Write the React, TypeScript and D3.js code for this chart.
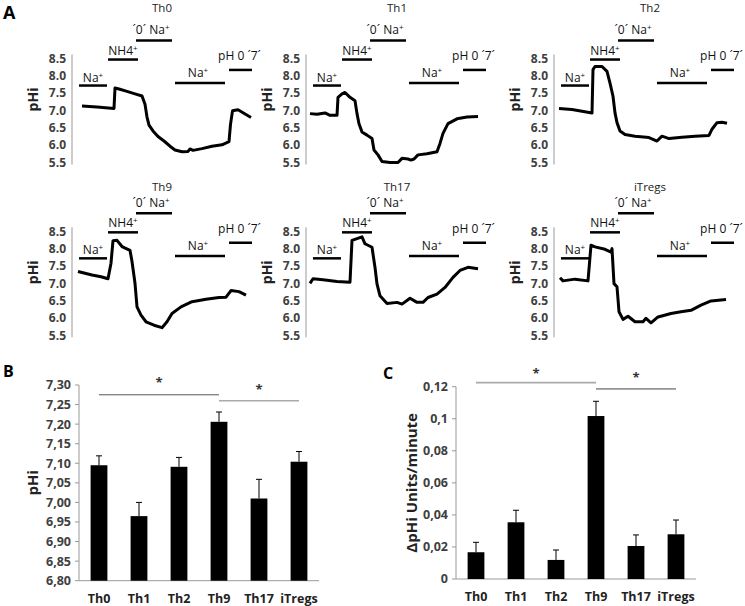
import React from "react";
import * as d3 from "d3";

const FONT = "'Open Sans', 'Liberation Sans', sans-serif";

// ---- Panel A: pHi traces, [time, pHi] ----
const th0: [number, number][] = [
  [10, 7.13], [25, 7.1], [42, 7.06], [43, 7.65], [47, 7.62], [55, 7.55], [63, 7.48],
  [70, 7.42], [73, 7.18], [75, 6.81], [77, 6.58], [81, 6.41], [86, 6.25], [92, 6.12],
  [98, 5.97], [103, 5.86], [110, 5.81], [116, 5.82], [118, 5.89], [121, 5.85],
  [130, 5.9], [140, 5.97], [150, 6.01], [157, 6.1], [158.5, 6.6], [160.5, 6.99],
  [166, 7.02], [179, 6.8],
];
const th1: [number, number][] = [
  [4, 6.91], [11, 6.89], [19, 6.93], [24, 6.86], [31, 6.86], [32, 7.38], [36, 7.48],
  [39, 7.52], [44, 7.38], [49, 7.28], [51, 6.91], [53, 6.62], [56, 6.38], [61, 6.29],
  [66, 6.19], [68, 5.86], [72, 5.72], [76, 5.53], [84, 5.5], [92, 5.5], [96, 5.62],
  [102, 5.6], [105, 5.57], [108, 5.6], [112, 5.72], [121, 5.75], [131, 5.81],
  [134, 6.05], [137, 6.34], [142, 6.62], [151, 6.76], [161, 6.81], [172, 6.83],
];
const th2: [number, number][] = [
  [5, 7.06], [18, 7.03], [28, 6.98], [38, 6.93], [39, 8.18], [41, 8.27], [48, 8.27],
  [53, 8.13], [56, 7.79], [59, 7.41], [61, 6.93], [63, 6.65], [66, 6.41], [71, 6.31],
  [81, 6.26], [95, 6.22], [103, 6.12], [108, 6.26], [115, 6.19], [128, 6.23],
  [141, 6.26], [155, 6.28], [158, 6.46], [163, 6.65], [168, 6.66], [173, 6.63],
];
const th9: [number, number][] = [
  [6, 7.34], [20, 7.24], [29, 7.19], [36, 7.13], [39, 7.58], [41, 8.23], [45, 8.24],
  [50, 8.06], [58, 7.95], [60, 7.63], [63, 7.0], [65, 6.32], [69, 6.08], [74, 5.89],
  [82, 5.79], [90, 5.72], [95, 5.89], [100, 6.13], [109, 6.32], [120, 6.47],
  [134, 6.54], [147, 6.59], [154, 6.6], [159, 6.79], [167, 6.76], [174, 6.66],
];
const th17: [number, number][] = [
  [4, 7.0], [7, 7.13], [17, 7.1], [31, 7.05], [44, 7.03], [46, 8.24], [51, 8.29],
  [56, 8.34], [59, 8.14], [66, 8.04], [69, 7.46], [71, 6.98], [74, 6.64], [81, 6.42],
  [91, 6.45], [96, 6.4], [104, 6.57], [111, 6.45], [117, 6.45], [122, 6.59],
  [131, 6.69], [139, 6.88], [147, 7.17], [154, 7.37], [162, 7.46], [172, 7.42],
];
const itregs: [number, number][] = [
  [6, 7.16], [9, 7.07], [21, 7.12], [34, 7.07], [37, 8.1], [41, 8.05], [51, 7.98],
  [57, 7.9], [58, 8.0], [60, 6.99], [63, 6.9], [65, 6.18], [69, 5.96], [74, 6.05],
  [81, 5.89], [89, 5.89], [92, 5.99], [97, 5.86], [104, 6.03], [117, 6.13],
  [127, 6.18], [137, 6.22], [147, 6.37], [157, 6.49], [172, 6.53],
];

const traceNames = ["Th0", "Th1", "Th2", "Th9", "Th17", "iTregs"];
const traces = [th0, th1, th2, th9, th17, itregs];
const phTicks = [8.5, 8.0, 7.5, 7.0, 6.5, 6.0, 5.5];

// perfusion solutions: label, superscript, start, end (time), bar level (pHi units)
const solLabels = ["Na", "NH4", "´0´ Na", "Na", "pH 0 ´7´"];
const solSup = ["+", "+", "+", "+", ""];
const solStart = [7, 36, 64, 103, 157];
const solEnd = [35, 66, 100, 153, 180];
const solLevel = [7.72, 8.47, 9.02, 7.79, 8.17];
const solTextDx = [0, 0, -3, -2, -1];
const solTextDy = [-4, -5, -6, -6, -10];

// ---- Panels B & C ----
const categories = ["Th0", "Th1", "Th2", "Th9", "Th17", "iTregs"];
const pHiMean = [7.095, 6.965, 7.091, 7.206, 7.01, 7.104];
const pHiErr = [0.024, 0.035, 0.024, 0.025, 0.049, 0.026];
const rateMean = [0.0167, 0.0354, 0.0119, 0.1017, 0.0206, 0.0279];
const rateErr = [0.0062, 0.0075, 0.0062, 0.0092, 0.0069, 0.0089];
const pHiTicks = d3.range(6.8, 7.3001, 0.05);
const rateTicks = d3.range(0, 0.12001, 0.02);

const sigB = [
  { from: "Th0", to: "Th9", y: 7.275, star: 7.312, color: "#555", w: 1 },
  { from: "Th9", to: "iTregs", y: 7.26, star: 7.296, color: "#aaa", w: 1.5 },
];
const sigC = [
  { from: "Th0", to: "Th9", y: 0.1225, star: 0.1298, color: "#aaa", w: 1.8 },
  { from: "Th9", to: "iTregs", y: 0.1186, star: 0.1273, color: "#444", w: 1 },
];

const colX = [72, 306, 554];
const rowTop = [58.5, 231.3];
const titleDx = [90, 91, 96];
const titleY = [12, 191];

const Sol = ({ i, x, y }: any) => {
  const cx = (x(solStart[i]) + x(solEnd[i])) / 2 + solTextDx[i];
  const yy = y(solLevel[i]);
  return (
    <g>
      <line x1={x(solStart[i])} x2={x(solEnd[i])} y1={yy} y2={yy} stroke="#000" strokeWidth={2.5} />
      <text x={cx} y={yy + solTextDy[i]} textAnchor="middle" fontSize={12} fill="#111">
        {solLabels[i]}
        {solSup[i] && (
          <tspan fontSize={8} dy={-4}>
            {solSup[i]}
          </tspan>
        )}
      </text>
    </g>
  );
};

const TracePanel = ({ k }: { k: number }) => {
  const col = k % 3;
  const row = Math.floor(k / 3);
  const ax = colX[col];
  const top = rowTop[row];
  const x = d3.scaleLinear().domain([0, 180]).range([ax, ax + 180]);
  const y = d3.scaleLinear().domain([5.5, 8.5]).range([top + 104, top]);
  const line = d3
    .line<[number, number]>()
    .x((d) => x(d[0]))
    .y((d) => y(d[1]));
  return (
    <g>
      <text x={ax + titleDx[col]} y={titleY[row]} textAnchor="middle" fontSize={11.5} fill="#222">
        {traceNames[k]}
      </text>
      <line x1={ax} x2={ax} y1={y(8.5) - 4} y2={y(5.5) + 2} stroke="#999" />
      {phTicks.map((t) => (
        <text key={t} x={ax - 6} y={y(t)} dy="0.35em" textAnchor="end" fontSize={12} fontWeight="bold" fill="#404040">
          {t.toFixed(1)}
        </text>
      ))}
      <text
        transform={`translate(${ax - 39},${top + 41}) rotate(-90)`}
        textAnchor="middle"
        dy="0.35em"
        fontSize={14}
        fontWeight="bold"
        fill="#222"
      >
        pHi
      </text>
      {solLabels.map((_, i) => (
        <Sol key={i} i={i} x={x} y={y} />
      ))}
      <path d={line(traces[k]) || ""} fill="none" stroke="#000" strokeWidth={3} strokeLinejoin="round" />
    </g>
  );
};

const BarPanel = ({ left, right, y0, y1, domain, ticks, fmt, mean, err, sig, label, labelX }: any) => {
  const x = d3.scaleBand().domain(categories).range([left, right]).paddingInner(0.58).paddingOuter(0.29);
  const y = d3.scaleLinear().domain(domain).range([y0, y1]);
  const cx = (c: string) => (x(c) as number) + x.bandwidth() / 2;
  return (
    <g>
      <line x1={left} x2={left} y1={y0} y2={y1} stroke="#999" />
      <line x1={left} x2={right} y1={y0} y2={y0} stroke="#999" />
      {ticks.map((t: number) => (
        <g key={t}>
          <line x1={left - 4} x2={left} y1={y(t)} y2={y(t)} stroke="#999" />
          <text x={left - 8} y={y(t)} dy="0.35em" textAnchor="end" fontSize={12.5} fontWeight="bold" fill="#404040">
            {fmt(t)}
          </text>
        </g>
      ))}
      {categories.map((c, i) => (
        <g key={c}>
          <rect x={x(c)} y={y(mean[i])} width={x.bandwidth()} height={y0 - y(mean[i])} fill="#000" />
          <line x1={cx(c)} x2={cx(c)} y1={y(mean[i])} y2={y(mean[i] + err[i])} stroke="#000" />
          <line x1={cx(c) - 3} x2={cx(c) + 3} y1={y(mean[i] + err[i])} y2={y(mean[i] + err[i])} stroke="#000" />
          <text x={cx(c)} y={y0 + 22} textAnchor="middle" fontSize={12.5} fontWeight="bold" fill="#222">
            {c}
          </text>
        </g>
      ))}
      {sig.map((s: any, i: number) => (
        <g key={i}>
          <line x1={cx(s.from)} x2={cx(s.to)} y1={y(s.y)} y2={y(s.y)} stroke={s.color} strokeWidth={s.w} />
          <text x={(cx(s.from) + cx(s.to)) / 2} y={y(s.star) + 7} textAnchor="middle" fontSize={13} fontWeight="bold" fill="#333">
            *
          </text>
        </g>
      ))}
      <text
        transform={`translate(${labelX},${(y0 + y1) / 2}) rotate(-90)`}
        textAnchor="middle"
        dy="0.35em"
        fontSize={15}
        fontWeight="bold"
        fill="#222"
      >
        {label}
      </text>
    </g>
  );
};

export default function App() {
  return (
    <svg
      width={745}
      height={606}
      style={{ position: "absolute", left: 0, top: 0, background: "#fff" }}
      fontFamily={FONT}
    >
      <text x={3} y={19} fontSize={18} fontWeight="bold">A</text>
      <text x={3} y={377} fontSize={16} fontWeight="bold">B</text>
      <text x={383} y={379} fontSize={16} fontWeight="bold">C</text>
      {traces.map((_, k) => (
        <TracePanel key={k} k={k} />
      ))}
      <BarPanel
        left={79}
        right={319}
        y0={580.7}
        y1={385}
        domain={[6.8, 7.3]}
        ticks={pHiTicks}
        fmt={(t: number) => t.toFixed(2).replace(".", ",")}
        mean={pHiMean}
        err={pHiErr}
        sig={sigB}
        label="pHi"
        labelX={33}
      />
      <BarPanel
        left={456}
        right={696}
        y0={579}
        y1={386.7}
        domain={[0, 0.12]}
        ticks={rateTicks}
        fmt={(t: number) => String(+t.toFixed(2)).replace(".", ",")}
        mean={rateMean}
        err={rateErr}
        sig={sigC}
        label="ΔpHi Units/minute"
        labelX={412}
      />
    </svg>
  );
}
